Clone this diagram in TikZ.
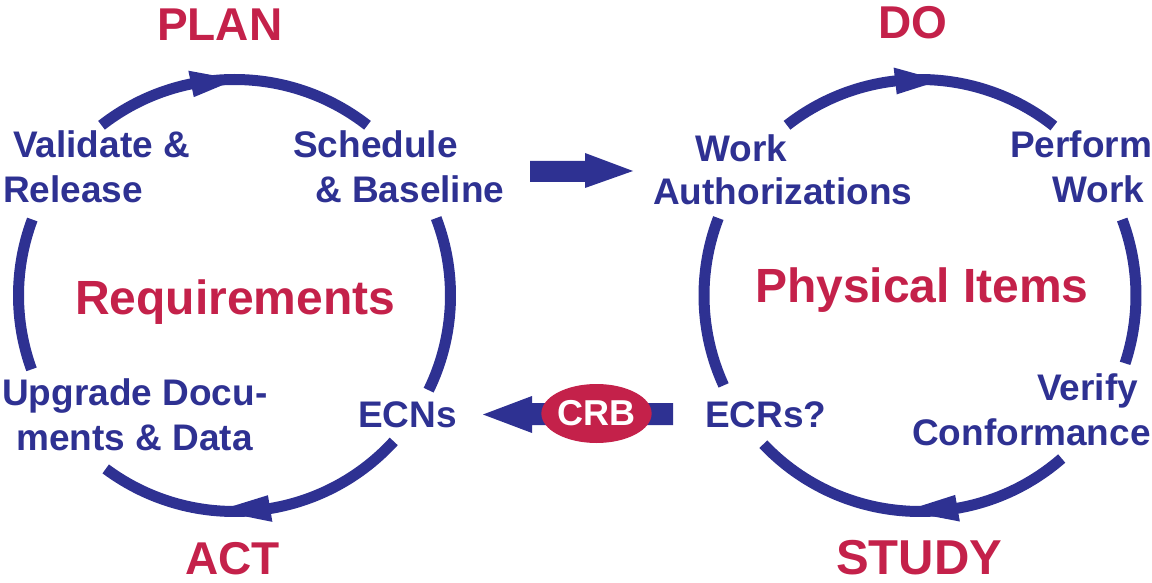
\documentclass[tikz,border=0pt]{standalone}
\usepackage{fontspec}
\setmainfont{Liberation Sans}
\usetikzlibrary{shapes.geometric}
\definecolor{navy}{RGB}{46,49,146}
\definecolor{crimson}{RGB}{196,33,74}
\tikzset{
  ring/.style={draw=navy, line width=11pt},
  lbl/.style={anchor=base west, inner sep=0pt, text=navy, font=\fontsize{37}{45}\selectfont\bfseries},
  ttl/.style={anchor=base west, inner sep=0pt, text=crimson, font=\fontsize{46}{46}\selectfont\bfseries},
  mid/.style={anchor=base west, inner sep=0pt, text=crimson, font=\fontsize{48}{48}\selectfont\bfseries},
  head/.style={fill=navy},
}
\begin{document}
\begin{tikzpicture}[x=1pt,y=1pt]
\useasboundingbox (0,0) rectangle (1152,582);
\coordinate (L) at (234.5,286.5);
\coordinate (R) at (920,286.5);
% left circle arcs
\draw[ring] ([shift={(128:216)}]L) arc[start angle=128,end angle=52,radius=216];
\draw[ring] ([shift={(21:216)}]L) arc[start angle=21,end angle=-26,radius=216];
\draw[ring] ([shift={(-42.5:216)}]L) arc[start angle=-42.5,end angle=-126.6,radius=216];
\draw[ring] ([shift={(200:216)}]L) arc[start angle=200,end angle=159.4,radius=216];
% right circle arcs
\draw[ring] ([shift={(128:216)}]R) arc[start angle=128,end angle=51.7,radius=216];
\draw[ring] ([shift={(20.6:216)}]R) arc[start angle=20.6,end angle=-18.3,radius=216];
\draw[ring] ([shift={(-49:216)}]R) arc[start angle=-49,end angle=-136.5,radius=216];
\draw[ring] ([shift={(204.6:216)}]R) arc[start angle=204.6,end angle=159,radius=216];
% arrowheads on the circles
\fill[head] ([shift={(101.6:229.5)}]L) -- ([shift={(101.6:202.5)}]L) -- ([shift={(89.6:216)}]L) -- cycle;
\fill[head] ([shift={(-80.5:229.5)}]L) -- ([shift={(-80.5:202.5)}]L) -- ([shift={(-94.5:216)}]L) -- cycle;
\fill[head] ([shift={(96.6:229.5)}]R) -- ([shift={(96.6:202.5)}]R) -- ([shift={(84.6:216)}]R) -- cycle;
\fill[head] ([shift={(-80:229.5)}]R) -- ([shift={(-80:202.5)}]R) -- ([shift={(-94:216)}]R) -- cycle;
% titles
\node[ttl] (plan) at (157,541) {PLAN};
\node[ttl] (do) at (878,543) {DO};
\node[ttl] (act) at (185,8) {ACT};
\node[ttl, font=\fontsize{49}{49}\selectfont\bfseries] (study) at (836,8) {STUDY};
% centre labels
\node[mid] (req) at (75,267) {Requirements};
\node[mid] (phys) at (755,279) {Physical Items};
% left circle labels
\node[lbl] (val1) at (13,424) {Validate \&};
\node[lbl] (val2) at (3,379) {Release};
\node[lbl] (sch1) at (293,424) {Schedule};
\node[lbl] (sch2) at (315,379) {\& Baseline};
\node[lbl] (upg1) at (2,177) {Upgrade Docu-};
\node[lbl] (upg2) at (16,132) {ments \& Data};
\node[lbl] (ecn) at (358,155) {ECNs};
% right circle labels
\node[lbl] (wa1) at (695,420) {Work};
\node[lbl] (wa2) at (653,377) {Authorizations};
\node[lbl] (pw1) at (1010,424) {Perform};
\node[lbl] (pw2) at (1052,379) {Work};
\node[lbl] (vc1) at (1037,182) {Verify};
\node[lbl] (vc2) at (912,137) {Conformance};
\node[lbl] (ecr) at (705,155) {ECRs?};
% block arrow PLAN -> DO
\fill[head] (530,421) -- (585,421) -- (585,429) -- (633,411) -- (585,394) -- (585,400) -- (530,400) -- cycle;
% CRB arrow
\fill[head] (673,179) -- (532,179) -- (532,186) -- (483,167.5) -- (532,149) -- (532,157) -- (673,157) -- cycle;
\node[ellipse, fill=crimson, minimum width=101pt, minimum height=59pt, inner sep=0pt,
      text=white, font=\fontsize{36}{36}\selectfont\bfseries] (crb) at (596.5,168.5) {CRB};
\end{tikzpicture}
\end{document}
